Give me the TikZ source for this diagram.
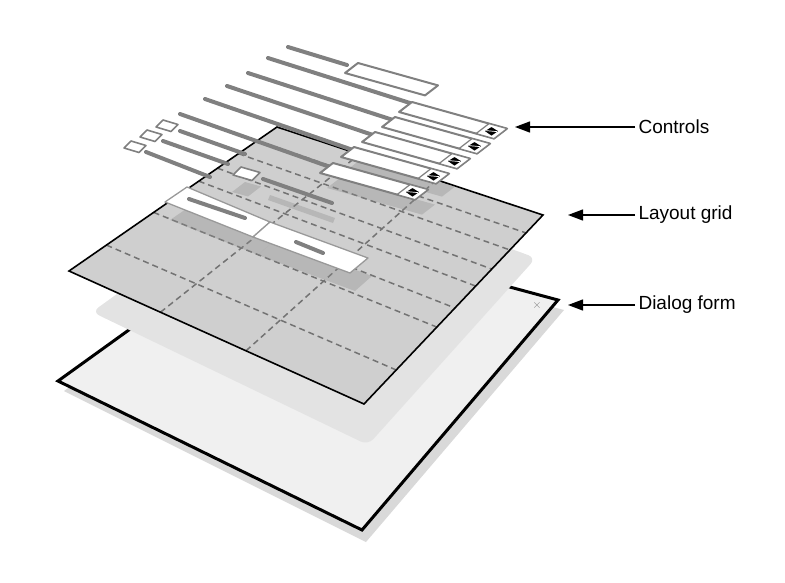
\documentclass[tikz,border=0pt]{standalone}
\usepackage{fontspec}
\setmainfont{Liberation Sans}
\usetikzlibrary{calc,arrows.meta}
\begin{document}
\begin{tikzpicture}[x={(1pt,0)},y={(0,-1pt)},
  lbl/.style={draw=black!50,line width=4pt,line cap=round},
  tbx/.style={fill=white,draw=black!50,line width=2pt,line join=round},
  shd/.style={fill=black!45,opacity=0.35},
  dsh/.style={draw=black!55,line width=1.5pt,dash pattern=on 6pt off 4pt},
  callout/.style={-{Triangle[length=15pt,width=11pt]},line width=1.3pt},
  txt/.style={font=\fontsize{19}{22}\selectfont,anchor=west}]
\useasboundingbox (0,0) rectangle (785,582);
\newcommand\tbox[4]{% x,y,dx,style
  \path[#4] (#1,#2) -- ++(#3,0.28*#3) -- ++(-13,10) -- ++(-#3,-0.28*#3) -- cycle;}
\newcommand\spin[2]{% top-right corner
  \path[draw=black!50,line width=1.2pt,fill=white] (#1-18,#2-5) -- (#1,#2) -- ++(-13,10) -- ++(-18,-5) -- cycle;
  \fill[black] (#1-22,#2+2.5) -- (#1-15.5,#2-1.5) -- (#1-9,#2+2.5) -- (#1-15.5,#2+7) -- cycle;
  \draw[white,line width=0.7pt] (#1-21,#2+2) -- (#1-10,#2+3);}
% dialog form
\coordinate (FL) at (58,381); \coordinate (FB) at (362,530);
\coordinate (FR) at (558,300); \coordinate (FT) at (276,224);
\fill[black!25,opacity=0.6] ($(FL)+(6,10)$) -- ($(FB)+(4,12)$) -- ($(FR)+(6,10)$) -- ($(FT)+(6,10)$) -- cycle;
\draw[fill=black!6,line width=3pt,line join=miter] (FL) -- (FB) -- (FR) -- (FT) -- cycle;
\node[text=black!50,font=\fontsize{12}{12}\selectfont] (x) at (537,305) {$\times$};
% grid shadow
\fill[black!11,rounded corners=8pt] (92,312) -- (368,445) -- (536,258) -- (292,168) -- cycle;
% layout grid
\coordinate (L) at (69,271); \coordinate (B) at (364,404);
\coordinate (R) at (543,215); \coordinate (T) at (277,127);
\fill[black!19] (L) -- (B) -- (R) -- (T) -- cycle;
\foreach \u in {0.31,0.6} \draw[dsh] ($(L)!\u!(B)$) -- ($(T)!\u!(R)$);
\foreach \s in {0.18,0.407,0.508,0.624,0.714,0.815,0.905} \draw[dsh] ($(L)!\s!(T)$) -- ($(B)!\s!(R)$);
\draw[line width=1.6pt,line join=miter] (L) -- (B) -- (R) -- (T) -- cycle;
% control shadows
\tbox{360}{160}{95}{shd}
\tbox{340}{178}{95}{shd}
\tbox{245}{182}{16}{shd}
\path[shd] (192,205) -- (275,240) -- (258,255) -- (170,220) -- cycle;
\path[shd] (275,240) -- (372,276) -- (355,291) -- (258,255) -- cycle;
\path[shd] (270,195) -- (335,218) -- (333,223) -- (268,200) -- cycle;
% rows
\draw[lbl] (288,47) -- (347,65);   \tbox{358}{63}{80}{tbx}
\draw[lbl] (268,58) -- (410,103);  \tbox{412}{102}{95}{tbx} \spin{507}{128.6}
\draw[lbl] (248,73) -- (393,120);  \tbox{395}{117}{95}{tbx} \spin{490}{143.6}
\draw[lbl] (227,86) -- (373,135);  \tbox{375}{132}{95}{tbx} \spin{470}{158.6}
\draw[lbl] (205,99) -- (353,150);  \tbox{354}{147}{95}{tbx} \spin{449}{173.6}
\draw[lbl] (180,114) -- (330,167); \tbox{333}{163}{95}{tbx} \spin{428}{189.6}
% checkboxes
\path[tbx,line width=1.6pt] (163,120) -- ++(15,4.5) -- ++(-7,7) -- ++(-15,-4.5) -- cycle;
\path[tbx,line width=1.6pt] (147,130) -- ++(15,4.5) -- ++(-7,7) -- ++(-15,-4.5) -- cycle;
\path[tbx,line width=1.6pt] (131,141) -- ++(15,4.5) -- ++(-7,7) -- ++(-15,-4.5) -- cycle;
\draw[lbl] (180,131) -- (245,154);
\draw[lbl] (163,141) -- (228,164);
\draw[lbl] (146,152) -- (210,177);
\path[tbx,line width=1.6pt] (241,167) -- ++(19,5.5) -- ++(-8,8) -- ++(-19,-5.5) -- cycle;
\draw[lbl] (263,179) -- (332,203);
% buttons
\path[tbx,draw=black!40,line width=1.3pt] (187,187) -- (270,222) -- (253,237) -- (165,202) -- cycle;
\path[tbx,draw=black!40,line width=1.3pt] (270,222) -- (368,258) -- (350,273) -- (253,237) -- cycle;
\draw[lbl] (189,199) -- (245,218);
\draw[lbl] (296,242) -- (323,253);
% callouts
\node[txt] (c) at (635,127) {Controls};
\node[txt] (g) at (635,215) {Layout grid};
\node[txt] (d) at (635,305) {Dialog form};
\coordinate (ca) at (515,127); \coordinate (ga) at (568,215); \coordinate (da) at (568,305);
\draw[callout] (c.west) -- (ca);
\draw[callout] (g.west) -- (ga);
\draw[callout] (d.west) -- (da);
\end{tikzpicture}
\end{document}
